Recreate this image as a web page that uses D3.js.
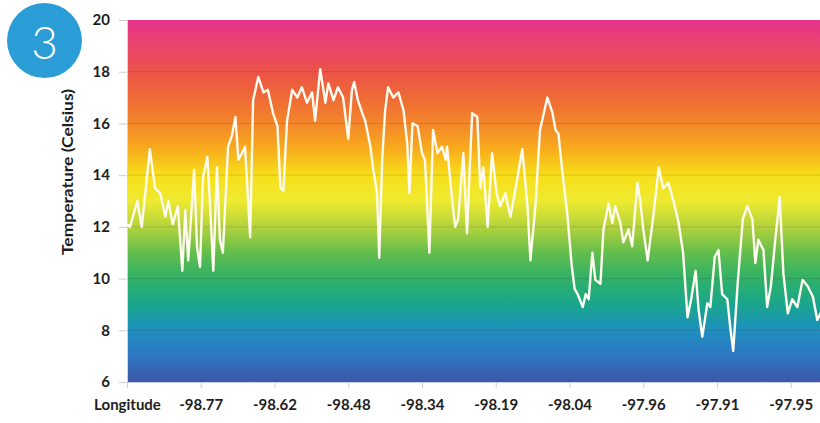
<!DOCTYPE html>
<html>
<head>
<meta charset="utf-8">
<script src="https://cdn.jsdelivr.net/npm/d3@7"></script>
<style>
  html, body { margin: 0; padding: 0; background: #fff; }
  svg { display: block; }
  text { font-family: Lato, "Open Sans", "DejaVu Sans", sans-serif; }
</style>
</head>
<body>
<svg id="chart" width="820" height="423"></svg>
<script>
// ---- data ----
const xTickLabels = ["Longitude", "-98.77", "-98.62", "-98.48", "-98.34", "-98.19", "-98.04", "-97.96", "-97.91", "-97.95"];
const xTickSamples = [0, 100, 200, 300, 400, 500, 600, 700, 800, 900];
const yTicks = [6, 8, 10, 12, 14, 16, 18, 20];
const sampleNo = [0, 4, 14, 20, 31, 38, 45, 52, 56, 62, 69, 75, 79, 83, 88, 91, 95, 99, 103, 109,
  113, 117, 122, 126, 130, 137, 142, 147, 151, 156, 160, 167, 171, 178, 185, 191, 198, 204, 208, 212,
  217, 224, 231, 237, 244, 251, 255, 262, 269, 273, 280, 286, 293, 300, 305, 308, 313, 319, 323, 330,
  334, 339, 342, 346, 350, 354, 361, 368, 375, 380, 383, 387, 394, 400, 404, 410, 415, 421, 427, 432,
  434, 441, 445, 449, 456, 461, 468, 475, 479, 483, 489, 495, 501, 506, 513, 520, 527, 536, 543, 547,
  554, 560, 570, 577, 581, 585, 590, 597, 603, 607, 611, 618, 622, 626, 631, 635, 642, 646, 653, 658,
  662, 669, 673, 680, 685, 692, 696, 700, 706, 714, 721, 727, 734, 741, 748, 754, 760, 765, 771, 775,
  780, 787, 791, 797, 802, 807, 814, 818, 822, 828, 835, 841, 848, 852, 856, 863, 868, 873, 879, 885,
  890, 896, 902, 909, 916, 923, 930, 936, 943, 954];
const temperature = [12.1, 12.0, 13.0, 12.0, 15.0, 13.5, 13.3, 12.4, 13.0, 12.1, 12.8, 10.3, 12.65, 10.7, 12.9, 14.2, 11.2, 10.45, 13.9, 14.7,
  12.65, 10.3, 14.3, 11.5, 11.0, 15.1, 15.5, 16.25, 14.6, 14.85, 15.1, 11.6, 16.9, 17.8, 17.2, 17.3, 16.4, 15.9, 13.5, 13.4,
  16.1, 17.3, 17.0, 17.4, 16.8, 17.2, 16.1, 18.1, 16.8, 17.55, 16.9, 17.4, 17.0, 15.4, 17.3, 17.6, 16.9, 16.4, 16.1, 15.1,
  14.2, 13.3, 10.8, 14.6, 16.5, 17.4, 17.0, 17.2, 16.5, 15.2, 13.3, 16.0, 15.9, 14.85, 14.6, 11.0, 15.75, 14.85, 15.1, 14.6,
  15.1, 13.0, 12.0, 12.3, 14.85, 11.75, 16.4, 16.25, 13.5, 14.3, 12.0, 14.85, 13.3, 12.8, 13.3, 12.4, 13.5, 15.0, 12.8, 10.7,
  12.9, 15.75, 17.0, 16.4, 15.75, 15.6, 14.2, 12.5, 10.5, 9.6, 9.4, 8.9, 9.4, 9.2, 11.0, 9.95, 9.8, 11.9, 12.9, 12.15,
  12.8, 12.15, 11.4, 11.9, 11.25, 13.7, 13.0, 11.9, 10.7, 12.5, 14.3, 13.5, 13.7, 13.0, 12.15, 11.0, 8.5, 9.2, 10.3, 8.8,
  7.75, 9.05, 8.9, 10.85, 11.1, 9.4, 9.2, 8.1, 7.2, 9.8, 12.3, 12.8, 12.3, 10.6, 11.5, 11.1, 8.9, 9.7, 11.5, 13.15,
  10.2, 8.65, 9.2, 8.9, 9.95, 9.7, 9.3, 8.4, 8.8, 8.5];

// ---- layout ----
const svg = d3.select("#chart");
const plotL = 127, plotT = 20, plotB = 382, plotR = 820;
const x = d3.scaleLinear().domain([0, 1000]).range([plotL, plotL + 737.5]);
const y = d3.scaleLinear().domain([6, 20]).range([plotB, plotT]);

// rainbow background gradient (value -> colour)
const bandStops = [
  [20, "#e6328c"], [19, "#e9456c"], [18, "#ec5348"], [17, "#ef6a36"], [16, "#f3862a"],
  [15, "#f8ac1c"], [14, "#f7df1a"], [13, "#eeea30"], [12, "#b3d33c"], [11, "#63bd4c"],
  [10, "#2eb168"], [9, "#1aa68c"], [8, "#1e90c0"], [7, "#2f76c2"], [6, "#3c58a6"]
];
const defs = svg.append("defs");
const grad = defs.append("linearGradient").attr("id", "rainbow")
  .attr("gradientUnits", "userSpaceOnUse")
  .attr("x1", 0).attr("x2", 0).attr("y1", y(20)).attr("y2", y(6));
grad.selectAll("stop").data(bandStops).join("stop")
  .attr("offset", d => (y(d[0]) - y(20)) / (y(6) - y(20)))
  .attr("stop-color", d => d[1]);
defs.append("clipPath").attr("id", "plotclip").append("rect")
  .attr("x", plotL).attr("y", plotT).attr("width", plotR - plotL).attr("height", plotB - plotT);
const glow = defs.append("filter").attr("id", "glow").attr("x", "-5%").attr("y", "-5%")
  .attr("width", "110%").attr("height", "110%");
glow.append("feGaussianBlur").attr("in", "SourceGraphic").attr("stdDeviation", 0.6);

svg.append("rect").attr("x", plotL).attr("y", y(20))
  .attr("width", plotR - plotL).attr("height", y(6) - y(20))
  .attr("fill", "url(#rainbow)");

// gridlines
svg.append("g").selectAll("line").data(yTicks.filter(t => t > 6 && t < 20)).join("line")
  .attr("x1", plotL).attr("x2", plotR)
  .attr("y1", d => y(d)).attr("y2", d => y(d))
  .attr("stroke", "rgba(90,60,40,0.2)").attr("stroke-width", 1);

// y axis
const yAxis = svg.append("g").attr("transform", `translate(${plotL},0)`)
  .call(d3.axisLeft(y).tickValues(yTicks).tickSize(8).tickPadding(9).tickFormat(d3.format("d")));
yAxis.select(".domain").attr("stroke", "#d0d4dc");
yAxis.selectAll(".tick line").attr("stroke", "#c8ccd4");
yAxis.selectAll(".tick text").attr("fill", "#1e1e1e").attr("font-size", 15).attr("font-weight", 700)
  .attr("font-family", "Lato, sans-serif");

// x axis
const xAxis = svg.append("g").attr("transform", `translate(0,${plotB})`)
  .call(d3.axisBottom(x).tickValues(xTickSamples).tickSize(6).tickPadding(14)
    .tickFormat((d, i) => xTickLabels[i]));
xAxis.select(".domain").attr("d", `M${plotL},0.5H${plotR}`).attr("stroke", "#c8d0e0");
xAxis.selectAll(".tick line").attr("stroke", "#c8d0e0");
xAxis.selectAll(".tick text").attr("fill", "#1e1e1e").attr("font-size", 15).attr("font-weight", 700)
  .attr("font-family", "Lato, sans-serif").attr("dy", "0.5em");

// y axis title
svg.append("text")
  .attr("transform", `translate(73,172) rotate(-90)`)
  .attr("text-anchor", "middle")
  .attr("font-size", 15).attr("font-weight", 700).attr("fill", "#1e1e1e")
  .attr("textLength", 166).attr("lengthAdjust", "spacingAndGlyphs")
  .text("Temperature (Celsius)");

// line
const pts = sampleNo.map((s, i) => [s, temperature[i]]);
svg.append("path").datum(pts)
  .attr("clip-path", "url(#plotclip)")
  .attr("fill", "none").attr("stroke", "#fffbee").attr("stroke-width", 2.4)
  .attr("stroke-linejoin", "round").attr("filter", "url(#glow)")
  .attr("d", d3.line().x(d => x(d[0])).y(d => y(d[1])));

// badge
svg.append("circle").attr("cx", 44.5).attr("cy", 40.5).attr("r", 37.5).attr("fill", "#2a9dd6");
svg.append("text").attr("x", 44.5).attr("y", 41).attr("text-anchor", "middle")
  .attr("dominant-baseline", "central").attr("fill", "#fff")
  .attr("font-size", 46).attr("font-weight", 300).attr("font-family", "Lato, 'Open Sans', sans-serif")
  .text("3");
</script>
</body>
</html>
